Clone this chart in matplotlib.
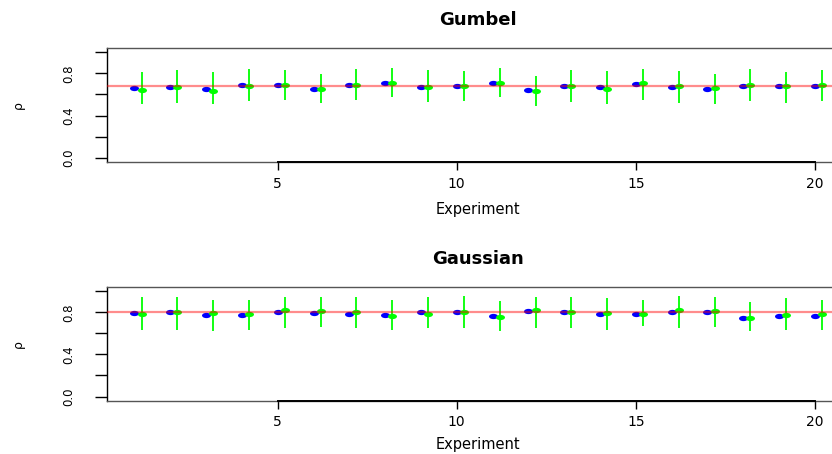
import numpy as np
import matplotlib
matplotlib.use("Agg")
import matplotlib.pyplot as plt
from matplotlib.markers import MarkerStyle
from matplotlib.transforms import Affine2D

experiments = np.arange(1, 21)

# Gumbel copula: estimates (blue), second estimate (green) with interval
gumbel_true = 0.68
gumbel_blue = [0.661, 0.670, 0.655, 0.690, 0.690, 0.655, 0.686, 0.709, 0.667, 0.680,
               0.712, 0.639, 0.683, 0.670, 0.696, 0.670, 0.651, 0.683, 0.683, 0.680]
gumbel_green = [0.639, 0.674, 0.632, 0.683, 0.686, 0.651, 0.686, 0.712, 0.674, 0.680,
                0.712, 0.629, 0.677, 0.655, 0.705, 0.683, 0.664, 0.693, 0.677, 0.686]
gumbel_low = [0.512, 0.521, 0.512, 0.537, 0.543, 0.515, 0.543, 0.573, 0.531, 0.540,
              0.572, 0.493, 0.531, 0.505, 0.550, 0.521, 0.505, 0.534, 0.521, 0.540]
gumbel_high = [0.813, 0.829, 0.813, 0.839, 0.832, 0.797, 0.842, 0.855, 0.829, 0.823,
               0.855, 0.775, 0.832, 0.826, 0.839, 0.826, 0.791, 0.839, 0.817, 0.832]

# Gaussian copula
gauss_true = 0.80
gauss_blue = [0.794, 0.800, 0.775, 0.778, 0.800, 0.797, 0.790, 0.775, 0.803, 0.806,
              0.762, 0.810, 0.800, 0.784, 0.787, 0.803, 0.803, 0.752, 0.771, 0.771]
gauss_green = [0.781, 0.806, 0.797, 0.781, 0.822, 0.813, 0.806, 0.771, 0.787, 0.806,
               0.759, 0.819, 0.806, 0.797, 0.790, 0.822, 0.810, 0.746, 0.778, 0.781]
gauss_low = [0.638, 0.638, 0.619, 0.629, 0.657, 0.660, 0.648, 0.638, 0.651, 0.654,
             0.619, 0.651, 0.651, 0.638, 0.667, 0.651, 0.660, 0.619, 0.629, 0.635]
gauss_high = [0.949, 0.946, 0.921, 0.917, 0.949, 0.946, 0.946, 0.921, 0.943, 0.956,
              0.908, 0.949, 0.943, 0.940, 0.921, 0.956, 0.952, 0.898, 0.937, 0.917]

xticks = [5, 10, 15, 20]
yticks = [0.0, 0.2, 0.4, 0.6, 0.8, 1.0]
yticklabels = ["0.0", "", "0.4", "", "0.8", ""]

plt.rcParams['font.family'] = ['DejaVu Sans']

fig = plt.figure(figsize=(8.32, 4.54), dpi=100)

dot = MarkerStyle('o', transform=Affine2D().scale(1.7, 1.0))
offset = 0.2


def panel(rect, title, blue, green, low, high, truth, xlab_y):
    ax = fig.add_axes(rect)
    x = experiments
    ax.vlines(x + offset, low, high, color='#00ff00', lw=1.3, zorder=2)
    ax.plot(x, blue, linestyle='none', marker=dot, ms=3.8, mew=0,
            color='#0000ff', zorder=3)
    ax.plot(x + offset, green, linestyle='none', marker=dot, ms=3.8, mew=0,
            color='#00ff00', zorder=3)
    ax.axhline(truth, color='red', alpha=0.45, lw=1.6, zorder=4)

    span = (x[-1] + offset) - x[0]
    ax.set_xlim(x[0] - 0.04 * span, x[-1] + offset + 0.04 * span)
    ax.set_ylim(-0.04, 1.04)

    for side in ['top', 'right', 'bottom']:
        ax.spines[side].set_color('#555555')
        ax.spines[side].set_linewidth(1.0)
    ax.spines['left'].set_color('black')
    ax.spines['left'].set_linewidth(1.0)
    # R-style axis line from first to last tick
    ax.plot([xticks[0], xticks[-1]], [0, 0], color='black', lw=1.4,
            transform=ax.get_xaxis_transform(), clip_on=False, zorder=5)

    ax.set_xticks(xticks)
    ax.set_xticklabels([str(t) for t in xticks], fontsize=10)
    ax.set_yticks(yticks)
    ax.set_yticklabels(yticklabels, rotation=90, va='center', fontsize=8.5)
    ax.tick_params(axis='x', length=5.5, width=1, pad=5)
    ax.tick_params(axis='y', length=9, width=1, pad=14)

    ax.text(0.5, 1 + 28 / 114, title, transform=ax.transAxes, ha='center',
            va='center', fontsize=13, fontweight='bold')
    ax.text(0.5, xlab_y, "Experiment", transform=ax.transAxes, ha='center',
            va='center', fontsize=10.5)
    ax.text(-89 / 742.5, 0.5, "ρ", transform=ax.transAxes, ha='center',
            va='center', rotation=90, fontsize=9)
    return ax


panel([0.1286, 0.6432, 0.8924, 0.2511], "Gumbel",
      gumbel_blue, gumbel_green, gumbel_low, gumbel_high, gumbel_true, -48 / 114)
panel([0.1286, 0.1174, 0.8924, 0.2498], "Gaussian",
      gauss_blue, gauss_green, gauss_low, gauss_high, gauss_true, -44 / 114)

fig.savefig("out.png", dpi=100)
